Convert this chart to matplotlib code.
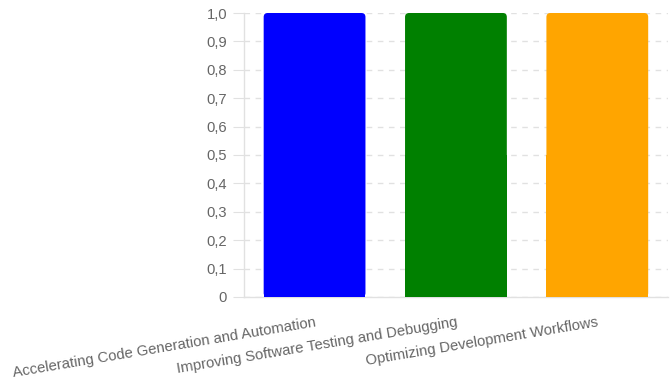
import matplotlib.pyplot as plt
from matplotlib.patches import FancyBboxPatch
from matplotlib.ticker import FuncFormatter, MultipleLocator

plt.rcParams['font.family'] = ['Liberation Sans', 'DejaVu Sans']

categories = [
    "Accelerating Code Generation and Automation",
    "Improving Software Testing and Debugging",
    "Optimizing Development Workflows",
]
values = [1.0, 1.0, 1.0]
colors = ["#0000ff", "#008000", "#ffa500"]

fig = plt.figure(figsize=(6.7, 3.87), dpi=100)
ax = fig.add_axes([0.364, 0.2326, 0.633, 0.7338])

x = list(range(len(categories)))
bar_w = 0.72
ax.set_xlim(-0.5, len(categories) - 0.5)
ax.set_ylim(0, 1.0)

# units per pixel, used to keep the corner radius round
ax_w_px = 0.633 * 670
ax_h_px = 0.7338 * 387
xu = (len(categories)) / ax_w_px
yu = 1.0 / ax_h_px
radius = 4 * xu

for xi, v, c in zip(x, values, colors):
    # square bottom half, rounded top
    ax.bar(xi, v / 2, width=bar_w, color=c, zorder=3, linewidth=0)
    p = FancyBboxPatch((xi - bar_w / 2, 0), bar_w, v,
                       boxstyle=f"round,pad=0,rounding_size={radius}",
                       mutation_aspect=yu / xu,
                       facecolor=c, edgecolor='none', zorder=3)
    ax.add_patch(p)

grid_c = "#e1e1e1"
ax.yaxis.set_major_locator(MultipleLocator(0.1))
ax.yaxis.set_major_formatter(FuncFormatter(
    lambda v, _: "0" if abs(v) < 1e-9 else f"{v:.1f}".replace(".", ",")))
ax.grid(axis='y', color=grid_c, linestyle=(0, (4, 4)), linewidth=1, zorder=0)

for s in ['top', 'right']:
    ax.spines[s].set_visible(False)
for s in ['left', 'bottom']:
    ax.spines[s].set_color(grid_c)
    ax.spines[s].set_linewidth(1)

ax.tick_params(axis='y', length=8, color=grid_c, labelcolor='#666666',
               labelsize=10.6, pad=4)
ax.tick_params(axis='x', length=0, labelcolor='#666666', labelsize=10.7, pad=13)
ax.set_xticks(x)
ax.set_xticklabels(categories, rotation=9.5, ha='right', va='top',
                   rotation_mode='anchor')

fig.savefig("out.png", dpi=100)
